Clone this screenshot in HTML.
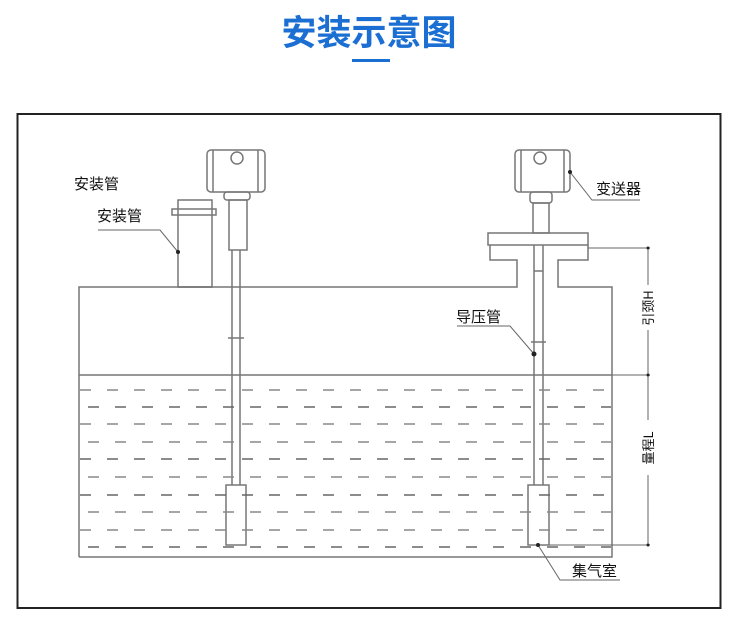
<!DOCTYPE html>
<html><head><meta charset="utf-8"><style>
body{margin:0;background:#fff;width:736px;height:624px;overflow:hidden;font-family:"Liberation Sans","Noto Sans CJK SC",sans-serif}
</style></head><body>
<svg width="736" height="624" xmlns="http://www.w3.org/2000/svg" style="position:absolute;left:0;top:0">
<text x="369" y="45" text-anchor="middle" font-size="35" font-weight="bold" fill="#1c6fd2" font-family="Noto Sans CJK SC,sans-serif">安装示意图</text>
<rect x="352" y="59" width="38" height="3" fill="#1c6fd2"/>
<rect x="17.5" y="114" width="703" height="494" fill="none" stroke="#222" stroke-width="2"/>
<g fill="none" stroke="#777" stroke-width="1.5">
<polyline points="79,557 79,287 212,287"/>
<polyline points="178,287 212,287 517,287 517,260 490,260 490,245"/>
<polyline points="588,245 588,260 558,260 558,287 612,287 612,557 79,557"/>
<line x1="79" y1="375" x2="612" y2="375"/>
<rect x="207" y="150" width="58" height="42" rx="4"/>
<line x1="213" y1="150" x2="213" y2="192"/><line x1="258" y1="150" x2="258" y2="192"/>
<circle cx="237" cy="158" r="6"/>
<rect x="224" y="192" width="26" height="8" rx="3"/>
<rect x="178" y="200" width="34" height="87"/>
<rect x="172" y="209" width="44" height="6"/>
<rect x="229" y="200" width="18" height="50"/>
<line x1="232" y1="250" x2="232" y2="485"/><line x1="240" y1="250" x2="240" y2="485"/>
<rect x="226" y="485" width="20" height="60"/>
<line x1="228" y1="338" x2="244" y2="338"/>
<rect x="515" y="150" width="55" height="42" rx="4"/>
<line x1="521" y1="150" x2="521" y2="192"/><line x1="564" y1="150" x2="564" y2="192"/>
<circle cx="540" cy="158" r="6"/>
<rect x="530" y="192" width="22" height="11" rx="3"/>
<rect x="533" y="203" width="16" height="30"/>
<rect x="488" y="233" width="100" height="12"/>
<line x1="534" y1="245" x2="534" y2="485"/><line x1="543" y1="245" x2="543" y2="485"/>
<line x1="534" y1="271" x2="543" y2="271"/>
<line x1="531" y1="342" x2="546" y2="342"/>
<rect x="528" y="485" width="21" height="60"/>
</g>
<g stroke="#888" stroke-width="1.5" stroke-dasharray="11 16">
<line x1="80" y1="390" x2="611" y2="390"/>
<line x1="88" y1="407" x2="611" y2="407" stroke="#666"/>
<line x1="80" y1="424" x2="611" y2="424"/>
<line x1="88" y1="442" x2="611" y2="442"/>
<line x1="80" y1="459" x2="611" y2="459" stroke="#666"/>
<line x1="88" y1="477" x2="611" y2="477"/>
<line x1="80" y1="495" x2="611" y2="495" stroke="#666"/>
<line x1="88" y1="512" x2="611" y2="512"/>
<line x1="80" y1="530" x2="611" y2="530"/>
<line x1="88" y1="547" x2="611" y2="547" stroke="#666"/>
</g>
<g stroke="#666" stroke-width="1" fill="none">
<line x1="588" y1="248" x2="650" y2="248"/>
<line x1="549" y1="545" x2="650" y2="545"/>
<line x1="648" y1="248" x2="648" y2="285"/>
<line x1="648" y1="330" x2="648" y2="420"/>
<line x1="648" y1="475" x2="648" y2="545"/>
<line x1="612" y1="375" x2="650" y2="375"/>
<polyline points="98,230 160,230 178,252"/>
<polyline points="570,172 592,200 640,200"/>
<polyline points="457,326 510,326 534,354"/>
<polyline points="538,545 560,580 620,580"/>
</g>
<g fill="#222"><circle cx="178" cy="252" r="2"/><circle cx="534" cy="354" r="2.5"/><circle cx="538" cy="545" r="2"/><circle cx="570" cy="172" r="2"/>
<circle cx="648" cy="248" r="1.5"/><circle cx="648" cy="375" r="1.5"/><circle cx="648" cy="545" r="1.5"/></g>
<g font-size="15" fill="#111" font-family="Noto Sans CJK SC,sans-serif">
<text x="74" y="189">安装管</text>
<text x="97" y="221">安装管</text>
<text x="596" y="194">变送器</text>
<text x="456" y="322">导压管</text>
<text x="572" y="576">集气室</text>
<text transform="translate(653,308) rotate(-90)" text-anchor="middle" font-size="13">引颈H</text>
<text transform="translate(653,448) rotate(-90)" text-anchor="middle" font-size="13">量程L</text>
</g>
</svg>
</body></html>
